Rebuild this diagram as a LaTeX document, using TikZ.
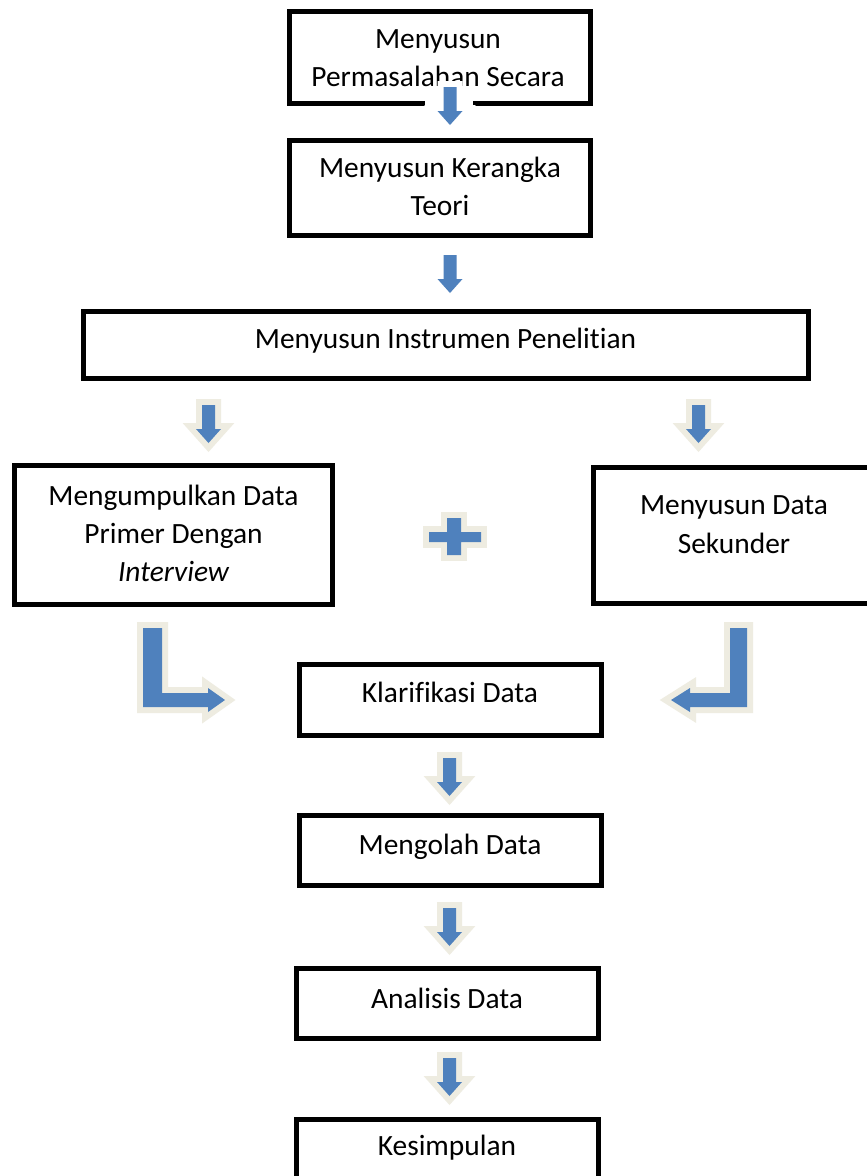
\documentclass[tikz,border=0pt]{standalone}
\usepackage{fontspec}
\setmainfont{Carlito}[Ligatures=NoCommon]
\definecolor{ablue}{HTML}{4F81BD}
\definecolor{halo}{HTML}{EEECE1}
\newcommand{\darrowpath}{(-6.5,0) -- (6.5,0) -- (6.5,24) -- (12.5,24) -- (0,38) -- (-12.5,24) -- (-6.5,24) -- cycle}
\tikzset{
  box/.style={draw=black, line width=5pt},
  txt/.style={anchor=base, inner sep=0pt, font=\fontsize{29.4}{38}\selectfont},
  plainarrow/.pic={\fill[ablue] \darrowpath;},
  haloarrow/.pic={\draw[halo, line width=12pt, line join=miter] \darrowpath; \fill[ablue] \darrowpath;},
  whitearrow/.pic={\draw[white, line width=12pt, line join=miter] \darrowpath; \fill[ablue] \darrowpath;},
}
\begin{document}
\begin{tikzpicture}[x=1pt,y=-1pt]
\useasboundingbox (0,0) rectangle (867,1176);
\clip (0,0) rectangle (867,1176);
\fill[white] (0,0) rectangle (867,1176);

% boxes
\draw[box] (289.5,11) rectangle (590,103);
\node[inner sep=0pt] (b1) at (440,57) {};
\node[inner sep=0pt] (b2) at (440,187.5) {};
\draw[box] (289.5,140) rectangle (590,235);
\draw[box] (83,311) rectangle (808,378);
\node[inner sep=0pt] (b3) at (445.5,344.5) {};
\draw[box] (14.5,465.5) rectangle (332.5,604);
\node[inner sep=0pt] (b4) at (173.5,535) {};
\draw[box] (593,467.5) rectangle (876,603);
\node[inner sep=0pt] (b5) at (734,535) {};
\draw[box] (299,664.5) rectangle (601,735);
\node[inner sep=0pt] (b6) at (450,700) {};
\draw[box] (299,815.5) rectangle (601,885);
\node[inner sep=0pt] (b7) at (450,850) {};
\draw[box] (296,968.5) rectangle (598,1038);
\node[inner sep=0pt] (b8) at (447,1003) {};
\draw[box] (296,1119.5) rectangle (598,1200);
\node[inner sep=0pt] (b9) at (447,1160) {};

% texts
\node[txt] (t1a) at (438,48) {Menyusun};
\node[txt] (t1b) at (438,86) {Permasalahan Secara};
\node[txt] (t2a) at (440,177) {Menyusun Kerangka};
\node[txt] (t2b) at (440,215) {Teori};
\node[txt] (t3) at (445.5,348) {Menyusun Instrumen Penelitian};
\node[txt] (t4a) at (173.5,505) {Mengumpulkan Data};
\node[txt] (t4b) at (173.5,543) {Primer Dengan};
\node[txt] (t4c) at (173.5,581) {\itshape Interview};
\node[txt] (t5a) at (734,514) {Menyusun Data};
\node[txt] (t5b) at (734,553) {Sekunder};
\node[txt] (t6) at (450,702) {Klarifikasi Data};
\node[txt] (t7) at (450,854) {Mengolah Data};
\node[txt] (t8) at (447,1008) {Analisis Data};
\node[txt] (t9) at (447,1155) {Kesimpulan};

% arrows
\fill[white] (425,95) rectangle (473,111);
\pic at (450,87) {whitearrow};
\pic at (450,255) {plainarrow};
\pic at (208.5,405) {haloarrow};
\pic at (698.5,405) {haloarrow};
\pic at (449.5,758) {haloarrow};
\pic at (449.5,908) {haloarrow};
\pic at (449.5,1058) {haloarrow};

% plus
\draw[halo, line width=12pt, line join=miter, fill=ablue]
  (447,518) -- (461,518) -- (461,532) -- (481,532) -- (481,542) -- (461,542) -- (461,555) -- (447,555) -- (447,542) -- (429,542) -- (429,532) -- (447,532) -- cycle;
\fill[ablue]
  (447,518) -- (461,518) -- (461,532) -- (481,532) -- (481,542) -- (461,542) -- (461,555) -- (447,555) -- (447,542) -- (429,542) -- (429,532) -- (447,532) -- cycle;

% bent arrows
\draw[halo, line width=12pt, line join=miter]
  (143,628) -- (162,628) -- (162,693) -- (208,693) -- (208,688) -- (225,700) -- (208,712) -- (208,707) -- (143,707) -- cycle;
\fill[ablue]
  (143,628) -- (162,628) -- (162,693) -- (208,693) -- (208,688) -- (225,700) -- (208,712) -- (208,707) -- (143,707) -- cycle;
\draw[halo, line width=12pt, line join=miter]
  (747,628) -- (730,628) -- (730,693) -- (690,693) -- (690,688) -- (671,700) -- (690,712) -- (690,707) -- (747,707) -- cycle;
\fill[ablue]
  (747,628) -- (730,628) -- (730,693) -- (690,693) -- (690,688) -- (671,700) -- (690,712) -- (690,707) -- (747,707) -- cycle;
\end{tikzpicture}
\end{document}
